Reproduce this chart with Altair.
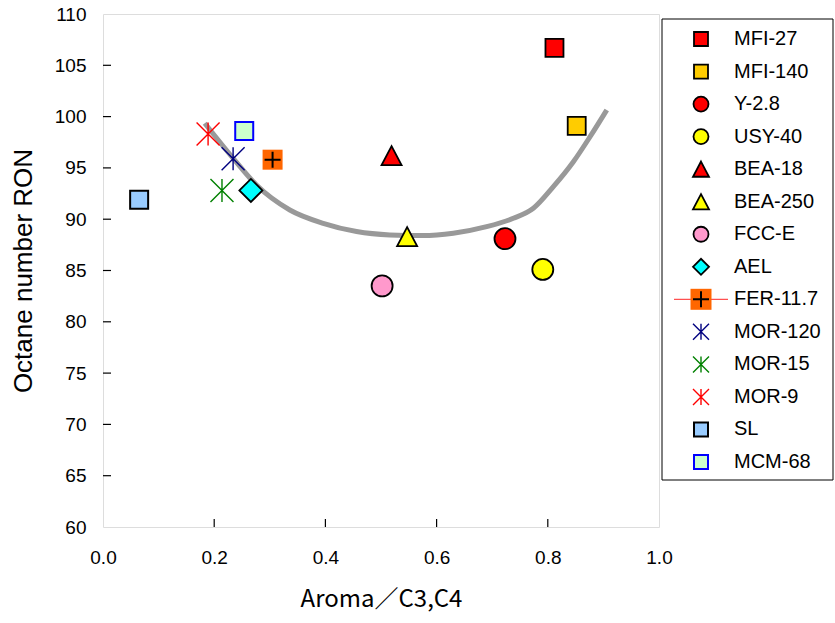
import altair as alt
import pandas as pd

# Catalyst samples: aroma/(C3,C4) ratio vs research octane number
names = ["MFI-27", "MFI-140", "Y-2.8", "USY-40", "BEA-18", "BEA-250", "FCC-E",
         "AEL", "FER-11.7", "MOR-120", "MOR-15", "MOR-9", "SL", "MCM-68"]
aroma = [0.812, 0.852, 0.723, 0.791, 0.519, 0.547, 0.502,
         0.266, 0.305, 0.234, 0.214, 0.189, 0.065, 0.254]
ron = [106.7, 99.1, 88.1, 85.1, 96.2, 88.3, 83.5,
       92.8, 95.8, 95.9, 92.8, 98.3, 91.9, 98.6]

# Trend curve
curve_x = [0.183, 0.234, 0.276, 0.336, 0.396, 0.456, 0.516, 0.575, 0.630,
           0.690, 0.738, 0.774, 0.810, 0.846, 0.876, 0.906]
curve_y = [99.35, 95.94, 93.33, 90.9, 89.6, 88.8, 88.47, 88.4, 88.63,
           89.27, 90.09, 91.06, 93.17, 95.6, 98.04, 100.64]

x_ticks = [0.0, 0.2, 0.4, 0.6, 0.8, 1.0]
y_ticks = [60, 65, 70, 75, 80, 85, 90, 95, 100, 105, 110]

TRI = "M0,-0.95L1,0.95L-1,0.95Z"
STAR = "M0,-1V1M-1,-1L1,1M-1,1L1,-1"
PLUS = "M-1,0H1M0,-1V1"

# marker style per sample: shape, fill, stroke, stroke width, plot size, legend size
style = {
    "MFI-27":   ("square", "#FF0000", "#000000", 1.8, 324, 196),
    "MFI-140":  ("square", "#FFCC00", "#000000", 1.8, 324, 196),
    "Y-2.8":    ("circle", "#FF0000", "#000000", 1.8, 441, 225),
    "USY-40":   ("circle", "#FFFF00", "#000000", 1.8, 441, 225),
    "BEA-18":   (TRI, "#FF0000", "#000000", 1.8, 400, 256),
    "BEA-250":  (TRI, "#FFFF00", "#000000", 1.8, 400, 256),
    "FCC-E":    ("circle", "#FF99CC", "#000000", 1.8, 441, 225),
    "AEL":      ("diamond", "#00FFFF", "#000000", 1.8, 529, 256),
    "FER-11.7": ("square", "#FF6600", "#FF6600", 0.0, 400, 441),
    "MOR-120":  (STAR, "transparent", "#000080", 1.4, 529, 256),
    "MOR-15":   (STAR, "transparent", "#008000", 1.4, 529, 256),
    "MOR-9":    (STAR, "transparent", "#FF0000", 1.4, 529, 256),
    "SL":       ("square", "#99CCFF", "#000000", 2.0, 324, 196),
    "MCM-68":   ("square", "#CCFFCC", "#0000FF", 2.0, 324, 196),
}

pts = pd.DataFrame({"series": names, "aroma": aroma, "ron": ron})
curve_df = pd.DataFrame({"aroma": curve_x, "ron": curve_y})

W, H = 556, 513
FONT = "Liberation Sans"

xscale = alt.Scale(domain=[0, 1], nice=False)
yscale = alt.Scale(domain=[60, 110], nice=False)

xenc = alt.X("aroma:Q", scale=xscale,
             axis=alt.Axis(values=x_ticks, format=".1f", title="Aroma／C3,C4",
                           domain=False, ticks=False, grid=False, labelFlush=False,
                           labelPadding=21, labelFontSize=19, labelFont=FONT,
                           titleFont="Noto Sans CJK JP", titleFontSize=24,
                           titleFontWeight="normal", titlePadding=20,
                           labelColor="black", titleColor="black"))
yenc = alt.Y("ron:Q", scale=yscale,
             axis=alt.Axis(values=y_ticks, title="Octane number RON",
                           domain=False, ticks=False, grid=False, labelFlush=False,
                           labelPadding=17, labelFontSize=19, labelFont=FONT,
                           titleFont=FONT, titleFontSize=26,
                           titleFontWeight="normal", titlePadding=18,
                           labelColor="black", titleColor="black"))

curve = alt.Chart(curve_df).mark_line(
    color="#999999", strokeWidth=5, interpolate="monotone"
).encode(x=xenc, y=yenc)

# inward tick marks
ytick_df = pd.DataFrame({"ron": y_ticks[1:-1]})
xtick_df = pd.DataFrame({"aroma": x_ticks[1:-1]})
yticks = alt.Chart(ytick_df).mark_rule(color="black", strokeWidth=1.2).encode(
    y=alt.Y("ron:Q", scale=yscale), x=alt.value(0), x2=alt.value(8))
xticks = alt.Chart(xtick_df).mark_rule(color="black", strokeWidth=1.2).encode(
    x=alt.X("aroma:Q", scale=xscale), y=alt.value(H), y2=alt.value(H - 8))

base = alt.Chart(pts)
point_layers = []
for n in names:
    shp, fill, stroke, sw, size, _ = style[n]
    point_layers.append(
        base.transform_filter(alt.datum.series == n).mark_point(
            shape=shp, fill=fill, stroke=stroke, strokeWidth=sw, size=size,
            opacity=1, fillOpacity=1
        ).encode(x=alt.X("aroma:Q", scale=xscale), y=alt.Y("ron:Q", scale=yscale))
    )
fer_plus = base.transform_filter(alt.datum.series == "FER-11.7").mark_point(
    shape=PLUS, stroke="black", strokeWidth=2, size=256, fill="transparent", opacity=1
).encode(x=alt.X("aroma:Q", scale=xscale), y=alt.Y("ron:Q", scale=yscale))

main = alt.layer(curve, yticks, xticks, *point_layers, fer_plus)

# legend panel to the right of the plot
LX, LT = 598, 631
lscale = alt.Scale(type="point", domain=names, range=[25, 448], padding=0)
ly = alt.Y("series:N", scale=lscale, axis=None)
lbase = alt.Chart(pts)

box = alt.Chart(pd.DataFrame({"k": [0]})).mark_rect(
    fill="white", stroke="black", strokeWidth=1
).encode(x=alt.value(559), x2=alt.value(730), y=alt.value(5), y2=alt.value(466))

fer_line = lbase.transform_filter(alt.datum.series == "FER-11.7").mark_rule(
    color="#FF5050", strokeWidth=1.3
).encode(y=ly, x=alt.value(571), x2=alt.value(625))

legend_layers = [box, fer_line]
for n in names:
    shp, fill, stroke, sw, _, lsize = style[n]
    legend_layers.append(
        lbase.transform_filter(alt.datum.series == n).mark_point(
            shape=shp, fill=fill, stroke=stroke, strokeWidth=sw, size=lsize,
            opacity=1, fillOpacity=1
        ).encode(y=ly, x=alt.value(LX))
    )
legend_layers.append(
    lbase.transform_filter(alt.datum.series == "FER-11.7").mark_point(
        shape=PLUS, stroke="black", strokeWidth=2, size=256, fill="transparent", opacity=1
    ).encode(y=ly, x=alt.value(LX))
)
legend_layers.append(
    lbase.mark_text(align="left", baseline="middle", font=FONT, fontSize=20,
                    color="black").encode(y=ly, x=alt.value(LT), text="series:N")
)
legend = alt.layer(*legend_layers)

chart = alt.layer(main, legend).resolve_scale(y="independent").properties(
    width=W, height=H,
    autosize=alt.AutoSizeParams(type="none"),
    padding={"left": 103, "top": 14, "right": 176, "bottom": 96},
).configure_view(stroke="black", strokeWidth=2).configure(background="white")

chart.save("out.html", embed_options={"renderer": "svg", "actions": False})
